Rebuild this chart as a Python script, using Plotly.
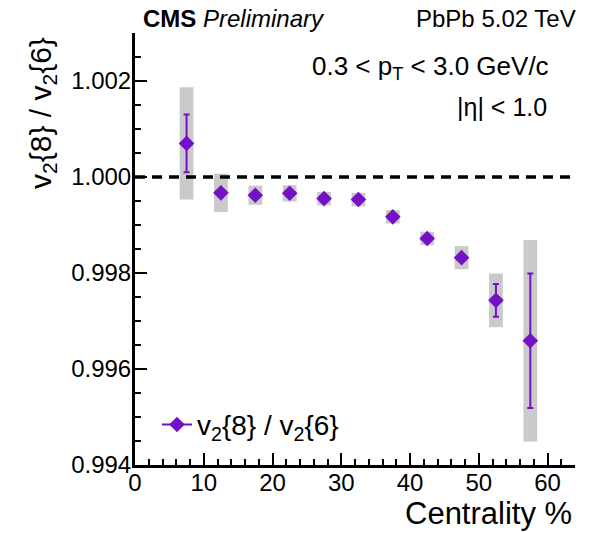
import plotly.graph_objects as go

# ---- data ----
centrality = [7.5, 12.5, 17.5, 22.5, 27.5, 32.5, 37.5, 42.5, 47.5, 52.5, 57.5]
ratio = [1.00070, 0.99967, 0.99962, 0.99966, 0.99955, 0.99953, 0.99917, 0.99872, 0.99832, 0.99743, 0.99659]
stat_err = [0.00060, 0.00005, 0.00005, 0.00005, 0.00004, 0.00004, 0.00004, 0.00004, 0.00006, 0.00034, 0.00140]
sys_err = [0.00117, 0.00040, 0.00020, 0.00017, 0.00014, 0.00014, 0.00014, 0.00014, 0.00024, 0.00056, 0.00210]
bin_width = 2.0
ref_level = 1.0
x_range = [0, 64]
y_range = [0.994, 1.003]
y_ticks = [0.994, 0.996, 0.998, 1.000, 1.002]
x_ticks = [0, 10, 20, 30, 40, 50, 60]

PURPLE = "#7410c8"
GREY = "#cacaca"
FONT = "Liberation Sans, Arial, Helvetica, sans-serif"

fig = go.Figure()

# systematic boxes
fig.add_trace(go.Bar(
    x=centrality,
    y=[2 * s for s in sys_err],
    base=[r - s for r, s in zip(ratio, sys_err)],
    width=bin_width,
    marker=dict(color=GREY, line=dict(width=0)),
    showlegend=False,
    hoverinfo="skip",
))

# points with statistical errors
fig.add_trace(go.Scatter(
    x=centrality, y=ratio, mode="markers",
    marker=dict(symbol="diamond", size=12, color=PURPLE),
    error_y=dict(type="data", array=stat_err, visible=True, color=PURPLE, thickness=2, width=3),
    showlegend=False,
))

# legend entry
fig.add_trace(go.Scatter(
    x=[None], y=[None], mode="lines+markers",
    name="v<sub>2</sub>{8} / v<sub>2</sub>{6}",
    line=dict(color=PURPLE, width=2),
    marker=dict(symbol="diamond", size=12, color=PURPLE),
))

fig.add_hline(y=ref_level, line=dict(color="black", width=3.5, dash="10px,7px"))

tickfont = dict(family=FONT, size=24, color="black")
axis_common = dict(
    showline=True, linecolor="black", linewidth=3,
    ticks="inside", ticklen=12, tickwidth=2, tickcolor="black",
    showgrid=False, zeroline=False,
)
xminor = dict(ticks="inside", dtick=2, ticklen=6, tickwidth=2, tickcolor="black", showgrid=False)
yminor = dict(ticks="inside", dtick=0.0005, tick0=0.994, ticklen=6, tickwidth=2, tickcolor="black", showgrid=False)

fig.update_layout(
    xaxis=dict(range=x_range, tickvals=x_ticks, minor=xminor, tickfont=tickfont,
               ticklabelstandoff=-6, **axis_common),
    yaxis=dict(range=y_range, tickvals=y_ticks, tickformat=".3f", minor=yminor, tickfont=tickfont,
               ticklabelstandoff=-4, **axis_common),
    xaxis2=dict(range=x_range, tickvals=x_ticks, minor=xminor, overlaying="x", side="top",
                showticklabels=False, **axis_common),
    yaxis2=dict(range=y_range, tickvals=y_ticks, minor=yminor, overlaying="y", side="right",
                showticklabels=False, **axis_common),
)

ann = []
ann.append(dict(xref="paper", yref="paper", x=0.016, y=1.034, xanchor="left", yanchor="middle",
                text="<b>CMS</b> <i>Preliminary</i>", showarrow=False, borderpad=0,
                font=dict(family=FONT, size=24, color="black")))
ann.append(dict(xref="paper", yref="paper", x=1.005, y=1.034, xanchor="right", yanchor="middle",
                text="PbPb 5.02 TeV", showarrow=False, borderpad=0,
                font=dict(family=FONT, size=24, color="black")))
ann.append(dict(xref="paper", yref="paper", x=0.945, y=0.921, xanchor="right", yanchor="middle",
                text="0.3 < p<sub>T</sub> < 3.0 GeV/c", showarrow=False,
                font=dict(family=FONT, size=26, color="black")))
ann.append(dict(xref="paper", yref="paper", x=0.94, y=0.829, xanchor="right", yanchor="middle",
                text="|η| < 1.0", showarrow=False,
                font=dict(family=FONT, size=25, color="black")))
ann.append(dict(xref="paper", yref="paper", x=0.995, y=-0.112, xanchor="right", yanchor="middle",
                text="Centrality %", showarrow=False, borderpad=0,
                font=dict(family=FONT, size=31, color="black")))
ann.append(dict(xref="paper", yref="paper", x=-0.209, y=0.815, xanchor="center", yanchor="middle",
                text="v<sub>2</sub>{8} / v<sub>2</sub>{6}", textangle=-90, showarrow=False,
                font=dict(family=FONT, size=30, color="black")))

fig.update_layout(
    width=592, height=533,
    margin=dict(l=135, r=17, t=33, b=68),
    paper_bgcolor="white", plot_bgcolor="white",
    annotations=ann,
    legend=dict(x=0.05, y=0.093, xanchor="left", yanchor="middle",
                bgcolor="rgba(0,0,0,0)", font=dict(family=FONT, size=28, color="black"),
                itemwidth=30),
    font=dict(family=FONT),
)

# remove the default page margin so the figure sits at the window's top-left corner
fig.write_html("out.html", config={"displayModeBar": False},
               post_script="document.body.style.margin='0';document.body.style.overflow='hidden';")
